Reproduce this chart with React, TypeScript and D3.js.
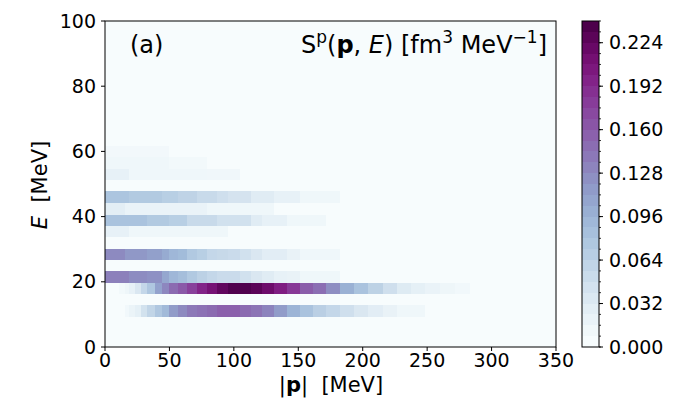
import React from "react";
import * as d3 from "d3";

// momentum bin edges [MeV]
const pEdges = [0, 11.1, 15.5, 18.8, 23.3, 27.7, 32.3, 38.8, 44.5, 49.8, 56.8, 63.9, 71.6, 79.4, 87.1, 95.7, 104.8, 113, 122, 131, 141, 151.3, 161.2, 171.5, 182.4, 193.2, 204.4, 215.5, 226.3, 237.2, 248.3, 260, 271.6, 283.3];
// energy bin edges [MeV]
const eEdges = [9.2, 12.8, 16.2, 19.6, 23.2, 26.6, 30.2, 33.6, 37.0, 40.6, 44.2, 47.8, 51.1, 54.7, 58.3, 61.8];

// spectral function values per energy bin (one value per momentum bin)
const rowA = [0, 0, 0.008, 0.015, 0.022, 0.042, 0.058, 0.075, 0.09, 0.115, 0.128, 0.14, 0.145, 0.15, 0.158, 0.158, 0.15, 0.144, 0.133, 0.115, 0.095, 0.08, 0.065, 0.055, 0.045, 0.035, 0.026, 0.018, 0.01, 0.01, 0, 0, 0];
const rowB = [0, 0.006, 0.012, 0.02, 0.035, 0.055, 0.075, 0.11, 0.13, 0.15, 0.163, 0.18, 0.198, 0.213, 0.228, 0.238, 0.238, 0.232, 0.22, 0.203, 0.185, 0.16, 0.148, 0.125, 0.098, 0.08, 0.062, 0.045, 0.03, 0.022, 0.017, 0.012, 0.008];
const rowC = [0.135, 0.135, 0.135, 0.127, 0.127, 0.127, 0.123, 0.123, 0.106, 0.092, 0.085, 0.073, 0.063, 0.055, 0.05, 0.05, 0.043, 0.035, 0.028, 0.02, 0.018, 0.01, 0.01, 0.01, 0, 0, 0, 0, 0, 0, 0, 0, 0];
const rowD = [0.128, 0.128, 0.118, 0.118, 0.118, 0.118, 0.112, 0.112, 0.103, 0.092, 0.088, 0.073, 0.066, 0.055, 0.053, 0.05, 0.043, 0.035, 0.026, 0.026, 0.018, 0.01, 0.01, 0.01, 0, 0, 0, 0, 0, 0, 0, 0, 0];
const rowE = [0.02, 0.02, 0.02, 0.01, 0.01, 0.01, 0.01, 0.01, 0.01, 0.01, 0.01, 0.01, 0.01, 0.01, 0.01, 0, 0, 0, 0, 0, 0, 0, 0, 0, 0, 0, 0, 0, 0, 0, 0, 0, 0];
const rowF = [0.08, 0.08, 0.08, 0.08, 0.08, 0.08, 0.072, 0.072, 0.072, 0.066, 0.066, 0.052, 0.052, 0.052, 0.043, 0.043, 0.043, 0.028, 0.02, 0.02, 0.01, 0.01, 0.01, 0, 0, 0, 0, 0, 0, 0, 0, 0, 0];
const rowG = [0.025, 0.025, 0.016, 0.016, 0.016, 0.016, 0.016, 0.016, 0.016, 0.016, 0.016, 0.016, 0.016, 0.01, 0.01, 0.01, 0.01, 0.01, 0.01, 0, 0, 0, 0, 0, 0, 0, 0, 0, 0, 0, 0, 0, 0];
const rowH = [0.078, 0.078, 0.078, 0.072, 0.072, 0.072, 0.072, 0.072, 0.066, 0.066, 0.06, 0.06, 0.052, 0.052, 0.045, 0.04, 0.04, 0.028, 0.028, 0.02, 0.02, 0.01, 0.01, 0.01, 0, 0, 0, 0, 0, 0, 0, 0, 0];
const rowI = [0.02, 0.02, 0.02, 0.01, 0.01, 0.01, 0.01, 0.01, 0.01, 0.01, 0.01, 0.01, 0.01, 0.009, 0.009, 0.009, 0, 0, 0, 0, 0, 0, 0, 0, 0, 0, 0, 0, 0, 0, 0, 0, 0];
const rowJ = [0.01, 0.01, 0.01, 0.01, 0.01, 0.01, 0.01, 0.01, 0.01, 0.006, 0.006, 0.006, 0.006, 0, 0, 0, 0, 0, 0, 0, 0, 0, 0, 0, 0, 0, 0, 0, 0, 0, 0, 0, 0];
const rowK = [0.007, 0.007, 0.007, 0.007, 0.007, 0.007, 0.007, 0.007, 0.007, 0, 0, 0, 0, 0, 0, 0, 0, 0, 0, 0, 0, 0, 0, 0, 0, 0, 0, 0, 0, 0, 0, 0, 0];
const rows: (number[] | null)[] = [rowA, null, rowB, rowC, null, rowD, null, rowE, rowF, rowG, rowH, null, rowI, rowJ, rowK];

const xTicks = [0, 50, 100, 150, 200, 250, 300, 350];
const yTicks = [0, 20, 40, 60, 80, 100];
const cbMajor = [0, 0.032, 0.064, 0.096, 0.128, 0.16, 0.192, 0.224];
const vmax = 0.24;
const nLevels = 30;

const FONT = "DejaVu Sans";

export default function App() {
  const W = 692, H = 403;
  const x = d3.scaleLinear().domain([0, 350]).range([105, 556]);
  const y = d3.scaleLinear().domain([0, 100]).range([347, 21]);
  const color = (v: number) => d3.interpolateBuPu(Math.max(0, Math.min(1, v / vmax)));
  const cb = d3.scaleLinear().domain([0, vmax]).range([347, 21]);
  const cbX0 = 582, cbX1 = 599;
  const levels = d3.range(nLevels);
  const minorTicks = d3.range(nLevels + 1).map((i) => (i * vmax) / nLevels);
  const fs = 19;
  const fl = 21;
  const fa = 24;
  const fsup = 17;

  const cells: JSX.Element[] = [];
  rows.forEach((row, i) => {
    if (!row) return;
    row.forEach((v, j) => {
      if (v <= 0) return;
      const xa = x(pEdges[j]);
      const xb = x(pEdges[j + 1]);
      const ya = y(eEdges[i + 1]);
      const yb = y(eEdges[i]);
      cells.push(
        <rect key={`${i}-${j}`} x={xa} y={ya} width={xb - xa} height={yb - ya} fill={color(v)} shapeRendering="crispEdges" />
      );
    });
  });

  return (
    <svg width={W} height={H} style={{ position: "absolute", left: 0, top: 0, background: "#fff" }} fontFamily={FONT}>
      <rect x={x(0)} y={y(100)} width={x(350) - x(0)} height={y(0) - y(100)} fill={color(0)} />
      {cells}
      {/* spines */}
      <rect x={x(0)} y={y(100)} width={x(350) - x(0)} height={y(0) - y(100)} fill="none" stroke="#000" strokeWidth={1} />
      {/* x ticks */}
      {xTicks.map((t) => (
        <g key={"x" + t}>
          <line x1={x(t)} x2={x(t)} y1={347} y2={351} stroke="#000" />
          <text x={x(t)} y={367} textAnchor="middle" fontSize={fs}>{t}</text>
        </g>
      ))}
      {/* y ticks */}
      {yTicks.map((t) => (
        <g key={"y" + t}>
          <line x1={101} x2={105} y1={y(t)} y2={y(t)} stroke="#000" />
          <text x={96} y={y(t)} dy="0.35em" textAnchor="end" fontSize={fs}>{t}</text>
        </g>
      ))}
      {/* axis labels */}
      <text x={331} y={392} textAnchor="middle" fontSize={fl} style={{ whiteSpace: "pre" }}>
        {"|"}<tspan fontWeight="bold">p</tspan>{"|  [MeV]"}
      </text>
      <text transform={`translate(47,185) rotate(-90)`} textAnchor="middle" fontSize={fl} style={{ whiteSpace: "pre" }}>
        <tspan fontStyle="italic">E</tspan>{"  [MeV]"}
      </text>
      {/* annotations */}
      <text x={130} y={53} fontSize={fa}>(a)</text>
      <text x={547} y={53} textAnchor="end" fontSize={fa}>
        {"S"}
        <tspan dy={-10} fontSize={fsup}>p</tspan>
        <tspan dy={10}>(</tspan>
        <tspan fontWeight="bold">p</tspan>
        {", "}
        <tspan fontStyle="italic">E</tspan>
        {") [fm"}
        <tspan dy={-10} fontSize={fsup}>3</tspan>
        <tspan dy={10}>{" MeV"}</tspan>
        <tspan dy={-10} fontSize={fsup}>{"\u22121"}</tspan>
        <tspan dy={10}>]</tspan>
      </text>
      {/* colorbar */}
      {levels.map((i) => {
        const y0 = cb(((i + 1) * vmax) / nLevels);
        const y1 = cb((i * vmax) / nLevels);
        return (
          <rect key={"cb" + i} x={cbX0} y={y0} width={cbX1 - cbX0} height={y1 - y0} fill={d3.interpolateBuPu(i / (nLevels - 1))} shapeRendering="crispEdges" />
        );
      })}
      <rect x={cbX0} y={cb(vmax)} width={cbX1 - cbX0} height={cb(0) - cb(vmax)} fill="none" stroke="#000" strokeWidth={1} />
      {minorTicks.map((t, i) => (
        <line key={"cm" + i} x1={cbX1} x2={cbX1 + 2} y1={cb(t)} y2={cb(t)} stroke="#000" strokeWidth={0.8} />
      ))}
      {cbMajor.map((t) => (
        <g key={"cM" + t}>
          <line x1={cbX1} x2={cbX1 + 4} y1={cb(t)} y2={cb(t)} stroke="#000" />
          <text x={609} y={cb(t)} dy="0.35em" fontSize={fs}>{d3.format(".3f")(t)}</text>
        </g>
      ))}
    </svg>
  );
}
